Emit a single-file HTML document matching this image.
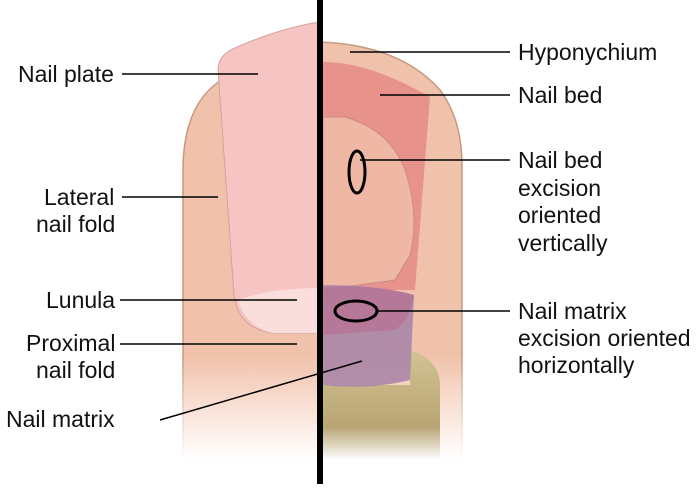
<!DOCTYPE html>
<html><head><style>
body{margin:0;width:700px;height:484px;background:#fff;overflow:hidden;}
svg text{font-family:"Liberation Sans",Arial,sans-serif;font-size:23px;fill:#111;}
</style></head><body>
<svg width="700" height="484" viewBox="0 0 700 484">
<defs>
<linearGradient id="fade" x1="0" y1="0" x2="0" y2="1">
<stop offset="0.75" stop-color="#f1c2ab"/><stop offset="1" stop-color="#fff"/>
</linearGradient>
<linearGradient id="sfade" x1="0" y1="0" x2="0" y2="1">
<stop offset="0.75" stop-color="#c59a80"/><stop offset="1" stop-color="#fff"/>
</linearGradient>
<linearGradient id="bone" x1="0" y1="0" x2="0" y2="1">
<stop offset="0" stop-color="#d2c293"/><stop offset="0.7" stop-color="#b9a574"/><stop offset="1" stop-color="#fff"/>
</linearGradient>
</defs>
<!-- finger -->
<path d="M183,460 L183,165 Q185,100 225,78 L320,42 Q400,45 440,90 Q462,120 462,165 L462,460 Z" fill="url(#fade)"/>
<path d="M183,460 L183,165 Q185,100 225,78 L320,42 Q400,45 440,90 Q462,120 462,165 L462,460" fill="none" stroke="url(#sfade)" stroke-width="1.5"/>
<!-- nail plate left -->
<path d="M218,70 Q218,55 235,48 Q280,28 320,22 L320,333 L272,333 Q238,328 234,295 Z" fill="#f6c4c2" stroke="#d5a29a" stroke-width="1"/>
<path d="M238,300 Q270,288 320,288 L320,333 L272,333 Q245,325 238,300 Z" fill="#f9dedb"/>
<!-- right side nail bed -->
<path d="M323,62 Q370,62 430,97 L415,290 L323,290 Z" fill="#e8928c"/>
<path d="M323,117 L345,117 Q390,130 405,170 Q420,215 410,255 L395,280 L323,290 Z" fill="#eeb8a4" stroke="#c98b80" stroke-width="1"/>
<!-- bone -->
<path d="M323,385 L410,385 L410,350 Q440,360 440,385 L440,460 L323,460 Z" fill="url(#bone)"/>
<!-- matrix purple -->
<path d="M323,285 Q380,285 414,295 L410,380 Q370,390 323,385 Z" fill="#a682a8" fill-opacity="0.85"/>
<path d="M323,287 Q380,285 414,295 Q410,320 395,330 L323,335 Z" fill="#b96b8f" fill-opacity="0.6"/>
<ellipse cx="357" cy="172" rx="8" ry="21" fill="none" stroke="#000" stroke-width="3"/>
<ellipse cx="356" cy="311" rx="21" ry="10" fill="none" stroke="#000" stroke-width="3"/>
<!-- center line -->
<rect x="317" y="0" width="6" height="484" fill="#000"/>
<!-- leaders -->
<g stroke="#000" stroke-width="1.5">
<line x1="122" y1="74" x2="258" y2="74"/>
<line x1="122" y1="197" x2="218" y2="197"/>
<line x1="120" y1="300" x2="297" y2="300"/>
<line x1="120" y1="344" x2="297" y2="344"/>
<line x1="160" y1="420" x2="362" y2="361"/>
<line x1="350" y1="52" x2="510" y2="52"/>
<line x1="380" y1="95" x2="510" y2="95"/>
<line x1="360" y1="160" x2="510" y2="160"/>
<line x1="378" y1="311" x2="510" y2="311"/>
</g>
<text x="18" y="82">Nail plate</text>
<text x="44" y="205">Lateral</text>
<text x="36" y="232">nail fold</text>
<text x="46" y="308">Lunula</text>
<text x="26" y="351">Proximal</text>
<text x="36" y="378">nail fold</text>
<text x="6" y="427">Nail matrix</text>
<text x="518" y="60">Hyponychium</text>
<text x="518" y="103">Nail bed</text>
<text x="518" y="168">Nail bed</text>
<text x="518" y="196">excision</text>
<text x="518" y="223">oriented</text>
<text x="518" y="251">vertically</text>
<text x="518" y="319">Nail matrix</text>
<text x="518" y="346">excision oriented</text>
<text x="518" y="373">horizontally</text>
</svg>
</body></html>
